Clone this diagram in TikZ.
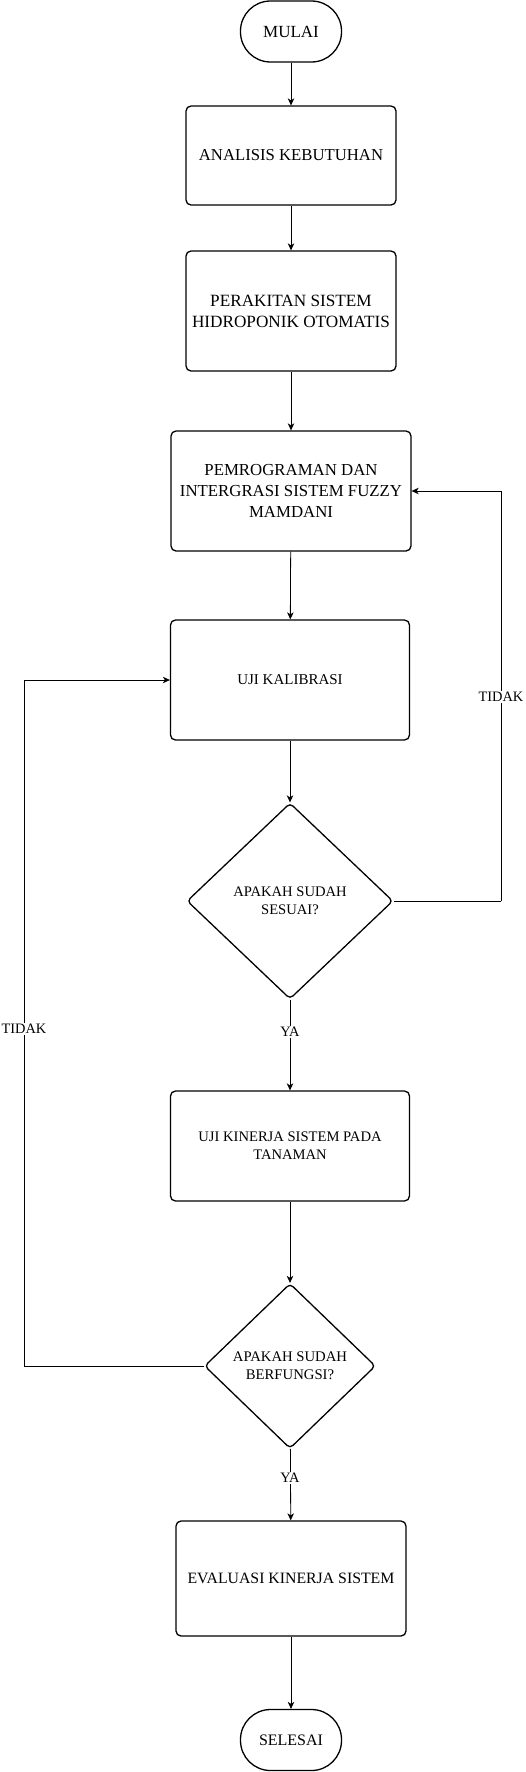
\documentclass[tikz,border=0pt]{standalone}
\usepackage{fontspec}
\setmainfont{Liberation Serif}
\usetikzlibrary{arrows.meta,shapes.geometric}
\newcommand{\ukuran}[1]{\fontsize{#1}{1.2*#1}\selectfont}
\begin{document}
\begin{tikzpicture}[x=1pt,y=-1pt,
    font=\fontsize{15}{18}\selectfont,
    terminal/.style={draw,line width=1.3pt,rounded corners=30pt,minimum width=101pt,minimum height=61pt,inner sep=0pt},
    proses/.style={draw,line width=1.3pt,rounded corners=5pt,align=center,inner sep=0pt},
    keputusan/.style={draw,diamond,line width=1.3pt,rounded corners=4pt,align=center,inner sep=0pt},
    panah/.style={line width=0.8pt,-{Stealth[length=7pt,width=6.5pt,inset=2pt]}},
    garis/.style={line width=0.8pt},
    ket/.style={fill=white,inner sep=1.5pt,font=\fontsize{14.4}{17}\selectfont}]
  \useasboundingbox (0,0) rectangle (525,1772);
  \node[terminal,font=\fontsize{17}{20}\selectfont] (mulai) at (291,31.5) {MULAI};
  \node[proses,minimum width=210pt,minimum height=99pt,font=\fontsize{16.7}{20}\selectfont] (analisis) at (291,155.5) {ANALISIS KEBUTUHAN};
  \node[proses,minimum width=210pt,minimum height=120pt,font=\fontsize{17.2}{21}\selectfont] (perakitan) at (291,311) {PERAKITAN SISTEM\\HIDROPONIK OTOMATIS};
  \node[proses,minimum width=240pt,minimum height=120pt,font=\fontsize{16.8}{20.7}\selectfont] (program) at (291,491) {PEMROGRAMAN DAN\\INTERGRASI SISTEM FUZZY\\MAMDANI};
  \node[proses,minimum width=239pt,minimum height=120pt] (kalibrasi) at (290,680) {UJI KALIBRASI};
  \node[keputusan,minimum width=206pt,minimum height=196pt,font=\fontsize{14.6}{18.3}\selectfont] (sesuai) at (290,901) {APAKAH SUDAH\\SESUAI?};
  \node[proses,minimum width=239pt,minimum height=110pt,font=\fontsize{14.6}{17.7}\selectfont] (kinerja) at (290,1146) {UJI KINERJA SISTEM PADA\\TANAMAN};
  \node[keputusan,minimum width=171pt,minimum height=165pt,font=\fontsize{14.7}{18.3}\selectfont] (berfungsi) at (290,1366) {APAKAH SUDAH\\BERFUNGSI?};
  \node[proses,minimum width=230pt,minimum height=115pt,font=\fontsize{15.8}{19}\selectfont] (evaluasi) at (291,1578.5) {EVALUASI KINERJA SISTEM};
  \node[terminal,font=\fontsize{16}{19}\selectfont] (selesai) at (291,1740) {SELESAI};
  \coordinate (kanan) at (501,901);
  \coordinate (kiri) at (24,1366);
  \draw[panah] (mulai) -- (analisis);
  \draw[panah] (analisis) -- (perakitan);
  \draw[panah] (perakitan) -- (program);
  \draw[panah] (program) -- (kalibrasi);
  \draw[panah] (kalibrasi) -- (sesuai);
  \draw[panah] (sesuai) -- (kinerja);
  \draw[panah] (kinerja) -- (berfungsi);
  \draw[panah] (berfungsi) -- (evaluasi);
  \draw[panah] (evaluasi) -- (selesai);
  \draw[garis] (sesuai.east) -- (kanan);
  \draw[panah] (kanan) |- (program.east);
  \draw[garis] (berfungsi.west) -- (kiri);
  \draw[panah] (kiri) |- (kalibrasi.west);
  \node[ket] (tidak1) at (501,697) {TIDAK};
  \node[ket] (tidak2) at (24,1029) {TIDAK};
  \node[ket] (ya1) at (290,1032) {YA};
  \node[ket] (ya2) at (290,1478) {YA};
\end{tikzpicture}
\end{document}
